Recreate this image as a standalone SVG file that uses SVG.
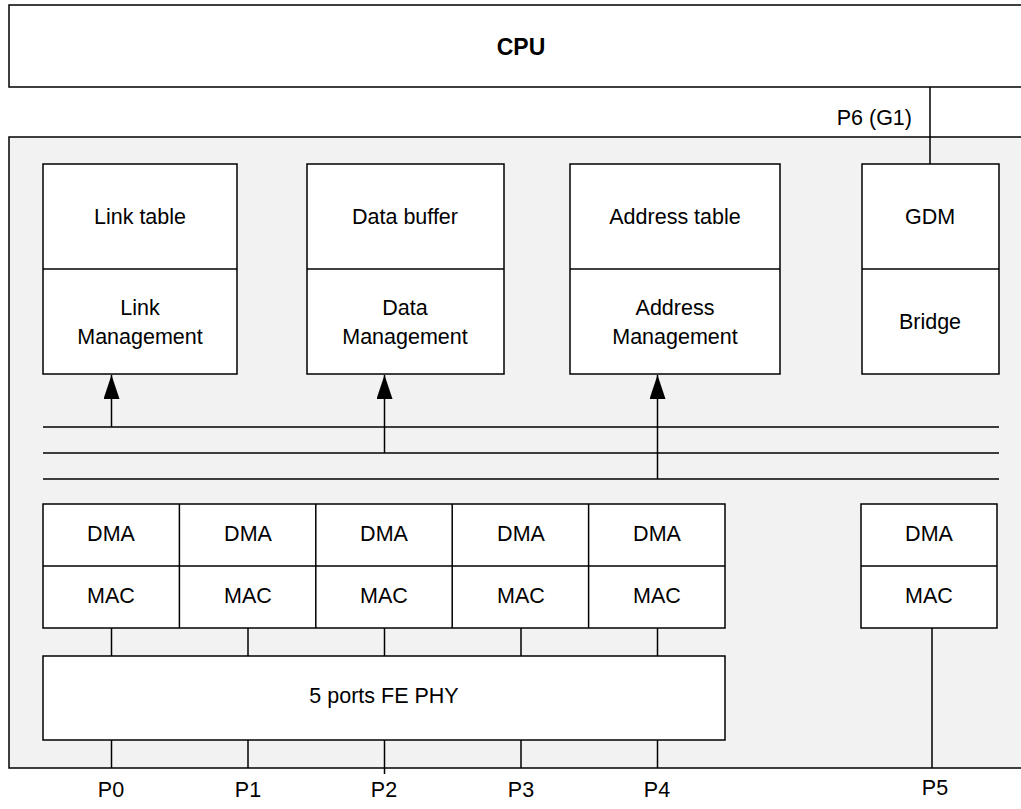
<svg xmlns="http://www.w3.org/2000/svg" width="1021" height="809" viewBox="0 0 1021 809">
<defs>
<style>
.box{fill:#fff;stroke:#000;stroke-width:1.5}
.ln{stroke:#000;stroke-width:1.5;fill:none}
.t{font-family:"Liberation Sans",Arial,sans-serif;font-size:21.5px;fill:#000;text-anchor:middle}
.b{font-weight:bold;font-size:23px}
</style>
<marker id="arr" markerUnits="userSpaceOnUse" markerWidth="24" markerHeight="16" refX="24" refY="8" viewBox="0 0 24 16" orient="auto">
<path d="M0,0 L24,8 L0,16 Z" fill="#000"/>
</marker>
</defs>
<rect width="1021" height="809" fill="#fff"/>
<g id="cpu">
<rect class="box" x="9" y="5" width="1030" height="82"/>
<text class="t b" x="521" y="55">CPU</text>
</g>
<g id="chip">
<rect x="9" y="137" width="1030" height="631" fill="#f2f2f2" stroke="#000" stroke-width="1.5"/>
</g>
<g id="link">
<rect class="box" x="43" y="164" width="194" height="210"/>
<line class="ln" x1="43" y1="269" x2="237" y2="269"/>
<text class="t" x="140" y="224">Link table</text>
<text class="t" x="140" y="315">Link</text>
<text class="t" x="140" y="344">Management</text>
</g>
<g id="data">
<rect class="box" x="307" y="164" width="197" height="210"/>
<line class="ln" x1="307" y1="269" x2="504" y2="269"/>
<text class="t" x="405" y="224">Data buffer</text>
<text class="t" x="405" y="315">Data</text>
<text class="t" x="405" y="344">Management</text>
</g>
<g id="address">
<rect class="box" x="570" y="164" width="210" height="210"/>
<line class="ln" x1="570" y1="269" x2="780" y2="269"/>
<text class="t" x="675" y="224">Address table</text>
<text class="t" x="675" y="315">Address</text>
<text class="t" x="675" y="344">Management</text>
</g>
<g id="gdm">
<rect class="box" x="862" y="164" width="137" height="210"/>
<line class="ln" x1="862" y1="269" x2="999" y2="269"/>
<text class="t" x="930" y="224">GDM</text>
<text class="t" x="930" y="329">Bridge</text>
</g>
<g id="dmamac">
<rect class="box" x="43" y="504" width="682" height="124"/>
<line class="ln" x1="43" y1="566" x2="725" y2="566"/>
<line class="ln" x1="179.4" y1="504" x2="179.4" y2="628"/>
<line class="ln" x1="315.8" y1="504" x2="315.8" y2="628"/>
<line class="ln" x1="452.2" y1="504" x2="452.2" y2="628"/>
<line class="ln" x1="588.6" y1="504" x2="588.6" y2="628"/>
<text class="t" x="111" y="541">DMA</text>
<text class="t" x="248" y="541">DMA</text>
<text class="t" x="384" y="541">DMA</text>
<text class="t" x="521" y="541">DMA</text>
<text class="t" x="657" y="541">DMA</text>
<text class="t" x="111" y="603">MAC</text>
<text class="t" x="248" y="603">MAC</text>
<text class="t" x="384" y="603">MAC</text>
<text class="t" x="521" y="603">MAC</text>
<text class="t" x="657" y="603">MAC</text>
</g>
<g id="dmamac5">
<rect class="box" x="861" y="504" width="136" height="124"/>
<line class="ln" x1="861" y1="566" x2="997" y2="566"/>
<text class="t" x="929" y="541">DMA</text>
<text class="t" x="929" y="603">MAC</text>
</g>
<g id="phy">
<rect class="box" x="43" y="656" width="682" height="84"/>
<text class="t" x="384" y="703">5 ports FE PHY</text>
</g>
<g id="connectors">
<line class="ln" x1="930" y1="87" x2="930" y2="164"/>
<line class="ln" x1="43" y1="427" x2="999" y2="427"/>
<line class="ln" x1="43" y1="453" x2="999" y2="453"/>
<line class="ln" x1="43" y1="479" x2="999" y2="479"/>
<line class="ln" x1="111.5" y1="427" x2="111.5" y2="375" marker-end="url(#arr)"/>
<line class="ln" x1="384.5" y1="453" x2="384.5" y2="375" marker-end="url(#arr)"/>
<line class="ln" x1="657.5" y1="479" x2="657.5" y2="375" marker-end="url(#arr)"/>
<line class="ln" x1="111.5" y1="628" x2="111.5" y2="656"/>
<line class="ln" x1="248" y1="628" x2="248" y2="656"/>
<line class="ln" x1="384.5" y1="628" x2="384.5" y2="656"/>
<line class="ln" x1="521" y1="628" x2="521" y2="656"/>
<line class="ln" x1="657.5" y1="628" x2="657.5" y2="656"/>
<line class="ln" x1="111.5" y1="740" x2="111.5" y2="768"/>
<line class="ln" x1="248" y1="740" x2="248" y2="768"/>
<line class="ln" x1="384.5" y1="740" x2="384.5" y2="774"/>
<line class="ln" x1="521" y1="740" x2="521" y2="768"/>
<line class="ln" x1="657.5" y1="740" x2="657.5" y2="768"/>
<line class="ln" x1="932" y1="628" x2="932" y2="768"/>
</g>
<g id="labels">
<text class="t" x="912" y="125" style="text-anchor:end">P6 (G1)</text>
<text class="t" x="111" y="797">P0</text>
<text class="t" x="248" y="797">P1</text>
<text class="t" x="384" y="797">P2</text>
<text class="t" x="521" y="797">P3</text>
<text class="t" x="657" y="797">P4</text>
<text class="t" x="935" y="795">P5</text>
</g>
</svg>
